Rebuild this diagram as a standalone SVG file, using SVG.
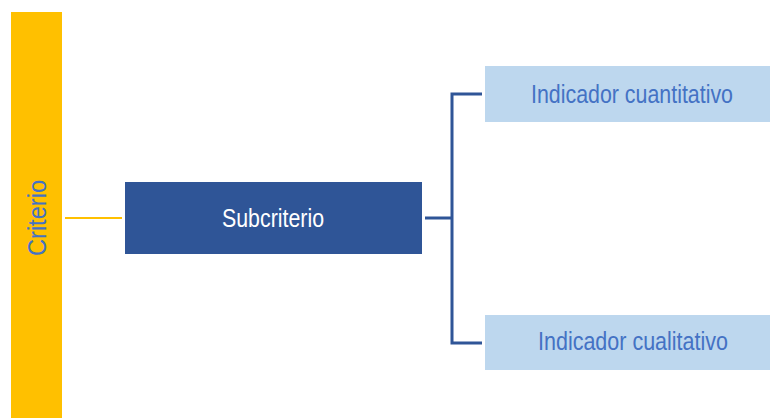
<svg xmlns="http://www.w3.org/2000/svg" width="770" height="418" viewBox="0 0 770 418">
  <style>
    .lbl { font-family: "Liberation Sans", Arial, sans-serif; font-size: 26px; text-anchor: middle; }
    .blue { fill: #4472C4; }
    .white { fill: #FFFFFF; }
    .conn { fill: none; stroke: #2F5597; stroke-width: 3; }
    .yconn { fill: none; stroke: #FFC000; stroke-width: 2; }
  </style>
  <rect width="770" height="418" fill="#FFFFFF"/>
  <g id="connectors">
    <line class="yconn" x1="65" y1="218" x2="122" y2="218"/>
    <line class="conn" x1="425" y1="218" x2="452" y2="218"/>
    <polyline class="conn" points="482,94 452,94 452,343 482,343"/>
  </g>
  <g id="criterio">
    <rect x="11" y="12" width="51" height="406" fill="#FFC000"/>
    <text class="lbl blue" transform="translate(46,218) rotate(-90)" textLength="76" lengthAdjust="spacingAndGlyphs">Criterio</text>
  </g>
  <g id="subcriterio">
    <rect x="125" y="182" width="297" height="72" fill="#2F5597"/>
    <text class="lbl white" x="273" y="227" textLength="102" lengthAdjust="spacingAndGlyphs">Subcriterio</text>
  </g>
  <g id="indicador-cuantitativo">
    <rect x="485" y="66" width="285" height="56" fill="#BDD7EE"/>
    <text class="lbl blue" x="632" y="103" textLength="202" lengthAdjust="spacingAndGlyphs">Indicador cuantitativo</text>
  </g>
  <g id="indicador-cualitativo">
    <rect x="485" y="315" width="285" height="55" fill="#BDD7EE"/>
    <text class="lbl blue" x="633" y="350" textLength="190" lengthAdjust="spacingAndGlyphs">Indicador cualitativo</text>
  </g>
</svg>
